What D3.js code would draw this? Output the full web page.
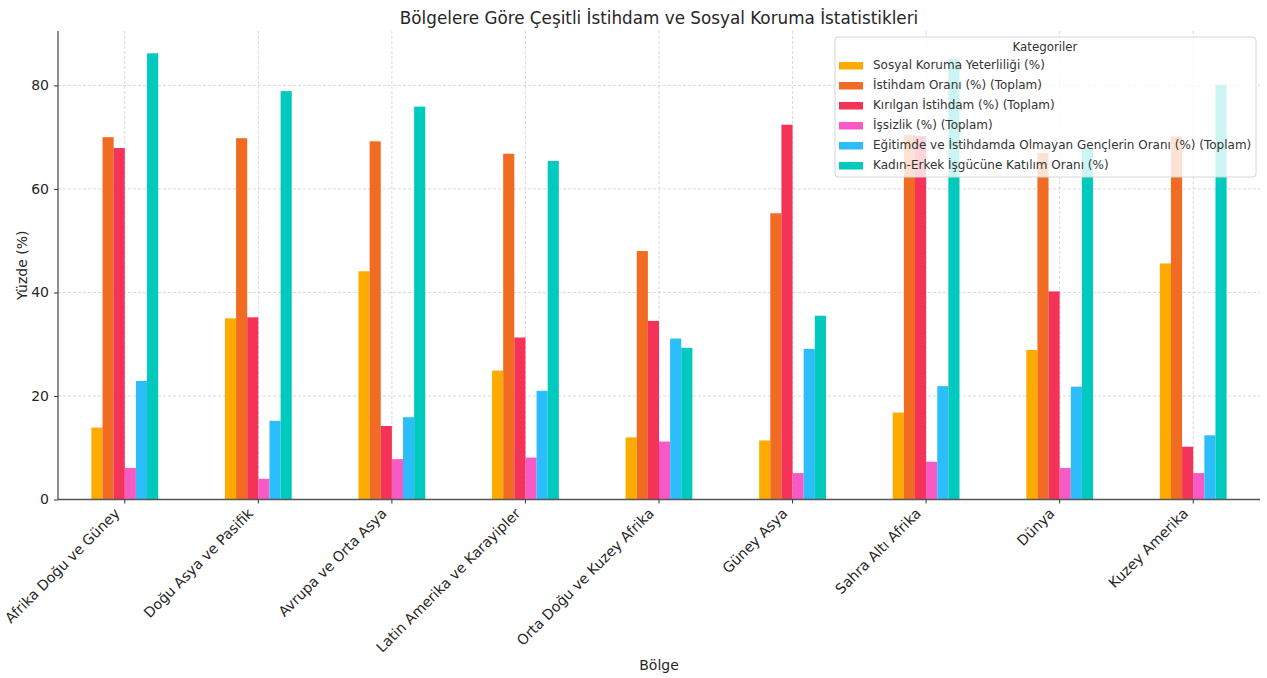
<!DOCTYPE html>
<html lang="tr">
<head>
<meta charset="utf-8">
<script src="https://cdn.jsdelivr.net/npm/d3@7"></script>
<style>
  html, body { margin: 0; padding: 0; background: #fff; }
  svg { display: block; font-family: "DejaVu Sans", sans-serif; }
</style>
</head>
<body>
<svg id="chart" width="1267" height="678"></svg>
<script>
// Bölgeler (x ekseni kategorileri)
const regions = [
  "Afrika Doğu ve Güney",
  "Doğu Asya ve Pasifik",
  "Avrupa ve Orta Asya",
  "Latin Amerika ve Karayipler",
  "Orta Doğu ve Kuzey Afrika",
  "Güney Asya",
  "Sahra Altı Afrika",
  "Dünya",
  "Kuzey Amerika"
];

// Seri adları (lejant sırası)
const seriesNames = [
  "Sosyal Koruma Yeterliliği (%)",
  "İstihdam Oranı (%) (Toplam)",
  "Kırılgan İstihdam (%) (Toplam)",
  "İşsizlik (%) (Toplam)",
  "Eğitimde ve İstihdamda Olmayan Gençlerin Oranı (%) (Toplam)",
  "Kadın-Erkek İşgücüne Katılım Oranı (%)"
];

// Her seri için bölge değerleri (yüzde)
const sosyalKoruma   = [13.9, 35.0, 44.1, 24.9, 12.0, 11.4, 16.8, 28.9, 45.6];
const istihdamOrani  = [70.0, 69.8, 69.2, 66.8, 48.0, 55.3, 70.4, 66.9, 70.1];
const kirilganIstihdam = [67.9, 35.2, 14.2, 31.3, 34.5, 72.4, 70.2, 40.2, 10.2];
const issizlik       = [6.1, 4.0, 7.8, 8.1, 11.2, 5.1, 7.3, 6.1, 5.1];
const gencNeet       = [22.9, 15.2, 15.9, 21.0, 31.1, 29.1, 21.9, 21.8, 12.4];
const kadinErkek     = [86.2, 78.9, 75.9, 65.4, 29.3, 35.5, 85.1, 67.9, 80.1];

const yTicks = [0, 20, 40, 60, 80];

const seriesValues = [sosyalKoruma, istihdamOrani, kirilganIstihdam, issizlik, gencNeet, kadinErkek];
const colors = ["#FFAA00", "#F26B22", "#F53358", "#F85AC5", "#2BBEFB", "#00C9BE"];

const W = 1267, H = 678;
const margin = { left: 58, right: 7, top: 31, bottom: 178.5 };
const plotL = margin.left, plotR = W - margin.right;
const plotT = margin.top, plotB = H - margin.bottom;

const svg = d3.select("#chart");

const x = d3.scaleBand().domain(regions).range([plotL, plotR]).paddingInner(0).paddingOuter(0);
const bw = x.bandwidth();
const xInner = d3.scaleBand().domain(seriesNames).range([-bw * 0.25, bw * 0.25]);

const yMax = d3.max(seriesValues.flat()) * 1.05;
const y = d3.scaleLinear().domain([0, yMax]).range([plotB, plotT]);

// Izgara çizgileri
const grid = svg.append("g").attr("class", "grid");
grid.selectAll("line.h").data(yTicks).join("line")
  .attr("x1", plotL).attr("x2", plotR)
  .attr("y1", d => y(d)).attr("y2", d => y(d))
  .attr("stroke", "#cfcfcf").attr("stroke-width", 0.8).attr("stroke-dasharray", "3,2");
grid.selectAll("line.v").data(regions).join("line")
  .attr("x1", d => x(d) + bw / 2).attr("x2", d => x(d) + bw / 2)
  .attr("y1", plotT).attr("y2", plotB)
  .attr("stroke", "#cfcfcf").attr("stroke-width", 0.8).attr("stroke-dasharray", "3,2");

// Çubuklar
const groups = svg.append("g").attr("class", "bars")
  .selectAll("g").data(seriesNames).join("g")
  .attr("fill", (d, i) => colors[i]);

groups.each(function (name, si) {
  d3.select(this).selectAll("rect")
    .data(regions.map((r, ri) => ({ r, v: seriesValues[si][ri] })))
    .join("rect")
    .attr("x", d => x(d.r) + bw / 2 + xInner(name))
    .attr("width", xInner.bandwidth())
    .attr("y", d => y(d.v))
    .attr("height", d => y(0) - y(d.v));
});

// Y ekseni
const yAxis = d3.axisLeft(y).tickValues(yTicks).tickSize(4).tickPadding(5);
const gy = svg.append("g").attr("transform", `translate(${plotL},0)`).call(yAxis);
gy.select(".domain").attr("stroke", "#333").attr("stroke-width", 1.1).attr("d", `M0,${plotT}V${plotB}`);
gy.selectAll(".tick line").attr("stroke", "#333");
gy.selectAll(".tick text").attr("font-size", 14).attr("fill", "#262626")
  .attr("font-family", "DejaVu Sans, sans-serif");

// X ekseni
const xAxis = d3.axisBottom(x).tickSize(4).tickPadding(4);
const gx = svg.append("g").attr("transform", `translate(0,${plotB})`).call(xAxis);
gx.select(".domain").attr("stroke", "#555").attr("stroke-width", 1.3).attr("d", `M${plotL},0H${plotR}`);
gx.selectAll(".tick line").attr("stroke", "#333");
gx.selectAll(".tick text")
  .attr("font-size", 14.2).attr("fill", "#262626")
  .attr("font-family", "DejaVu Sans, sans-serif")
  .attr("text-anchor", "end")
  .attr("dy", null)
  .attr("transform", "translate(-7,12) rotate(-45)")
  .attr("y", 0).attr("x", 0).attr("dominant-baseline", "middle");

// Başlık ve eksen adları
svg.append("text")
  .attr("x", (plotL + plotR) / 2).attr("y", 24)
  .attr("text-anchor", "middle").attr("font-size", 16.8).attr("fill", "#262626")
  .text("Bölgelere Göre Çeşitli İstihdam ve Sosyal Koruma İstatistikleri");

svg.append("text")
  .attr("transform", `translate(27,${(plotT + plotB) / 2}) rotate(-90)`)
  .attr("text-anchor", "middle").attr("font-size", 14).attr("fill", "#262626")
  .text("Yüzde (%)");

svg.append("text")
  .attr("x", (plotL + plotR) / 2).attr("y", 670)
  .attr("text-anchor", "middle").attr("font-size", 14).attr("fill", "#262626")
  .text("Bölge");

// Lejant
const lg = svg.append("g").attr("transform", "translate(835,37)");
lg.append("rect")
  .attr("width", 421).attr("height", 140).attr("rx", 3)
  .attr("fill", "#fff").attr("fill-opacity", 0.8)
  .attr("stroke", "#d6d6d6").attr("stroke-width", 1);
lg.append("text")
  .attr("x", 210).attr("y", 14).attr("text-anchor", "middle")
  .attr("font-size", 11.8).attr("fill", "#333").text("Kategoriler");
const items = lg.selectAll("g.item").data(seriesNames).join("g")
  .attr("transform", (d, i) => `translate(0,${28.5 + i * 20})`);
items.append("rect")
  .attr("x", 4).attr("y", -3.5).attr("width", 24).attr("height", 7.5)
  .attr("fill", (d, i) => colors[i]);
items.append("text")
  .attr("x", 38).attr("y", 0).attr("dominant-baseline", "middle")
  .attr("font-size", 12).attr("fill", "#333").text(d => d);
</script>
</body>
</html>
